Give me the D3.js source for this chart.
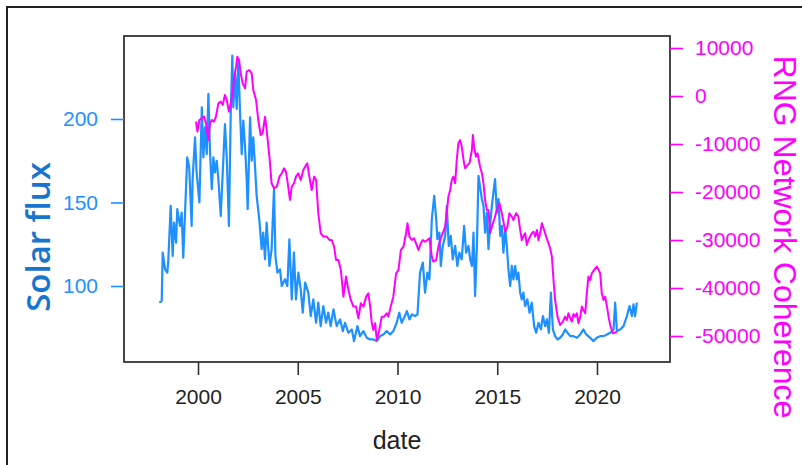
<!DOCTYPE html>
<html lang="en">
<script src="https://d3js.org/d3.v7.min.js"></script>

<head>
  <meta charset="UTF-8">
  <title>Solar flux vs RNG Network Coherence</title>
  <style>
    body { margin: 0; background: white; }
    .frame { fill: none; stroke: #222; stroke-width: 2px; }
    .plot-box { fill: none; stroke: #333; stroke-width: 1.8px; }
    .axis text { font-family: "Liberation Sans", Arial, sans-serif; font-size: 21px; }
    .axis .domain { display: none; }
    .axis line { stroke-width: 1.6px; }
    .flux-line { fill: none; stroke: #1E90FF; stroke-width: 2.2px; stroke-linejoin: round; }
    .rng-line { fill: none; stroke: #FF00FF; stroke-width: 2px; stroke-linejoin: round; }
  </style>
</head>

<body>
  <svg width="802" height="465"></svg>

  <script>
    // Solar flux: [decimal year, flux]
    var fluxSeries = [
      [1998.06, 90], [1998.18, 91], [1998.23, 120], [1998.35, 110], [1998.46, 108], [1998.51, 115],
      [1998.63, 148], [1998.73, 118], [1998.8, 138], [1998.9, 126], [1998.96, 146], [1999.1, 136],
      [1999.18, 144], [1999.26, 117], [1999.4, 159], [1999.46, 177], [1999.56, 171], [1999.68, 136],
      [1999.73, 164], [1999.85, 189], [1999.93, 168], [2000.07, 150], [2000.19, 207], [2000.27, 177],
      [2000.35, 195], [2000.44, 179], [2000.52, 215], [2000.6, 181], [2000.69, 158], [2000.77, 177],
      [2000.85, 168], [2000.94, 175], [2001.02, 164], [2001.14, 142], [2001.24, 168], [2001.35, 197],
      [2001.44, 177], [2001.55, 136], [2001.64, 203], [2001.72, 238], [2001.77, 207], [2001.86, 227],
      [2001.94, 206], [2002.02, 235], [2002.11, 203], [2002.19, 179], [2002.27, 199], [2002.36, 183],
      [2002.44, 164], [2002.49, 146], [2002.61, 201], [2002.69, 175], [2002.77, 189], [2002.86, 171],
      [2002.94, 154], [2003.07, 140], [2003.19, 122], [2003.27, 132], [2003.36, 116], [2003.44, 138],
      [2003.58, 112], [2003.69, 122], [2003.81, 158], [2003.88, 118], [2003.98, 108], [2004.11, 110],
      [2004.2, 100], [2004.36, 104], [2004.48, 100], [2004.58, 128], [2004.7, 92], [2004.81, 120],
      [2004.91, 92], [2005.03, 108], [2005.15, 98], [2005.25, 84], [2005.37, 102], [2005.53, 96],
      [2005.65, 82], [2005.78, 92], [2005.92, 78], [2006.03, 90], [2006.15, 76], [2006.28, 88],
      [2006.42, 78], [2006.53, 84], [2006.65, 76], [2006.79, 86], [2006.95, 76], [2007.12, 80],
      [2007.26, 73], [2007.37, 78], [2007.54, 72], [2007.71, 74], [2007.82, 67], [2007.99, 76],
      [2008.12, 70], [2008.29, 73], [2008.46, 69], [2008.63, 68], [2008.79, 68], [2008.96, 67],
      [2009.13, 70], [2009.29, 71], [2009.46, 73], [2009.63, 71], [2009.79, 73], [2009.96, 78],
      [2010.09, 84], [2010.21, 78], [2010.33, 81], [2010.47, 85], [2010.6, 80], [2010.72, 83],
      [2010.88, 82], [2011.0, 83], [2011.13, 108], [2011.27, 114], [2011.38, 96], [2011.5, 108],
      [2011.6, 104], [2011.72, 140], [2011.84, 154], [2011.94, 140], [2012.0, 128], [2012.1, 132],
      [2012.17, 112], [2012.27, 124], [2012.39, 130], [2012.47, 148], [2012.57, 124], [2012.67, 130],
      [2012.77, 116], [2012.89, 124], [2013.0, 112], [2013.1, 120], [2013.22, 116], [2013.34, 136],
      [2013.44, 120], [2013.56, 124], [2013.64, 116], [2013.73, 112], [2013.81, 132], [2013.89, 94],
      [2013.98, 124], [2014.06, 166], [2014.23, 152], [2014.31, 148], [2014.39, 132], [2014.48, 144],
      [2014.56, 122], [2014.64, 136], [2014.73, 148], [2014.81, 156], [2014.89, 164], [2014.98, 144],
      [2015.06, 152], [2015.15, 130], [2015.23, 136], [2015.31, 120], [2015.4, 134], [2015.48, 124],
      [2015.56, 110], [2015.65, 100], [2015.73, 112], [2015.81, 104], [2015.9, 112], [2015.98, 104],
      [2016.06, 108], [2016.15, 96], [2016.23, 92], [2016.31, 96], [2016.4, 88], [2016.51, 92],
      [2016.62, 84], [2016.73, 90], [2016.85, 76], [2016.95, 72], [2017.07, 78], [2017.19, 74],
      [2017.29, 82], [2017.4, 76], [2017.49, 80], [2017.59, 72], [2017.69, 96], [2017.79, 74],
      [2017.9, 70], [2018.02, 68], [2018.15, 69], [2018.29, 71], [2018.4, 74], [2018.52, 72],
      [2018.66, 70], [2018.82, 70], [2018.99, 69], [2019.16, 71], [2019.32, 74], [2019.46, 71],
      [2019.66, 69], [2019.82, 67], [2019.99, 69], [2020.16, 70], [2020.33, 70], [2020.5, 71],
      [2020.66, 72], [2020.83, 74], [2020.91, 90], [2021.0, 73], [2021.16, 74], [2021.33, 76],
      [2021.5, 82], [2021.63, 88], [2021.75, 82], [2021.83, 89], [2021.91, 82], [2022.0, 90]
    ];

    // RNG network coherence (cumulative): [decimal year, value]
    var rngSeries = [
      [1999.9, -5350], [1999.97, -7430], [2000.07, -5000], [2000.19, -4650], [2000.3, -4300],
      [2000.4, -5700], [2000.52, -9170], [2000.6, -5700], [2000.69, -5000], [2000.8, -5350],
      [2000.9, -4300], [2001.02, -1530], [2001.14, -1180], [2001.24, -1870], [2001.35, 210],
      [2001.44, -830], [2001.55, -3260], [2001.64, -1530], [2001.74, 560], [2001.81, 4020],
      [2001.91, 6100], [2001.97, 8190], [2002.06, 7500], [2002.14, 4730], [2002.24, 2640],
      [2002.36, 1600], [2002.44, 5070], [2002.57, 5420], [2002.69, 4730], [2002.77, 1250],
      [2002.91, -830], [2003.02, -5000], [2003.14, -8120], [2003.24, -7800], [2003.36, -4300],
      [2003.44, -7080], [2003.58, -12640], [2003.69, -18190], [2003.81, -19230], [2003.95, -18900],
      [2004.08, -16800], [2004.2, -16100], [2004.31, -15070], [2004.41, -15800], [2004.5, -18190],
      [2004.61, -21660], [2004.7, -18900], [2004.81, -18190], [2004.91, -16800], [2005.03, -16100],
      [2005.15, -17500], [2005.28, -15400], [2005.37, -14720], [2005.48, -14020], [2005.58, -16800],
      [2005.7, -19580], [2005.82, -16800], [2005.92, -17500], [2006.03, -24430], [2006.15, -28590],
      [2006.28, -29290], [2006.45, -29290], [2006.59, -30000], [2006.7, -30000], [2006.82, -31390],
      [2006.92, -34160], [2007.04, -34160], [2007.16, -36240], [2007.29, -41800], [2007.42, -37630],
      [2007.54, -40410], [2007.66, -42490], [2007.79, -43880], [2007.92, -43880], [2008.04, -46300],
      [2008.16, -43180], [2008.29, -43880], [2008.43, -41800], [2008.54, -41100], [2008.63, -43880],
      [2008.71, -47350], [2008.79, -48740], [2008.88, -47350], [2008.96, -50830], [2009.09, -48740],
      [2009.21, -45970], [2009.33, -45970], [2009.46, -45270], [2009.54, -45970], [2009.66, -43880],
      [2009.79, -41800], [2009.93, -36940], [2010.05, -36240], [2010.17, -32080], [2010.3, -31390],
      [2010.43, -28590], [2010.5, -26520], [2010.6, -29290], [2010.72, -30000], [2010.83, -29640],
      [2010.93, -30700], [2011.05, -32080], [2011.17, -30700], [2011.27, -30000], [2011.38, -30350],
      [2011.5, -30000], [2011.6, -29640], [2011.72, -33470], [2011.8, -34510], [2011.94, -34160],
      [2012.05, -31390], [2012.14, -30000], [2012.27, -28590], [2012.39, -27220], [2012.47, -24430],
      [2012.55, -20970], [2012.64, -19580], [2012.72, -17500], [2012.8, -16800], [2012.89, -18190],
      [2012.97, -13330], [2013.05, -9860], [2013.14, -9170], [2013.22, -10550], [2013.31, -13330],
      [2013.39, -15070], [2013.51, -14370], [2013.61, -14020], [2013.73, -11250], [2013.78, -8120],
      [2013.84, -10550], [2013.93, -12640], [2014.01, -11940], [2014.14, -14720], [2014.23, -16100],
      [2014.31, -18190], [2014.39, -21660], [2014.48, -23750], [2014.56, -23750], [2014.64, -28590],
      [2014.73, -27220], [2014.84, -25830], [2014.98, -23750], [2015.11, -22350], [2015.23, -24430],
      [2015.31, -26180], [2015.4, -28270], [2015.51, -27220], [2015.61, -24430], [2015.73, -25130],
      [2015.81, -25830], [2015.95, -24430], [2016.06, -25130], [2016.15, -27910], [2016.23, -30000],
      [2016.31, -29290], [2016.4, -28590], [2016.48, -31040], [2016.56, -30000], [2016.65, -29290],
      [2016.73, -28590], [2016.82, -28270], [2016.9, -29290], [2016.99, -27910], [2017.07, -30000],
      [2017.15, -28590], [2017.24, -26520], [2017.35, -27910], [2017.45, -29290], [2017.57, -30700],
      [2017.65, -31730], [2017.74, -33470], [2017.82, -38330], [2017.9, -42490], [2018.02, -45970],
      [2018.15, -47700], [2018.29, -47010], [2018.4, -45970], [2018.49, -46660], [2018.57, -45270],
      [2018.66, -46300], [2018.74, -47010], [2018.82, -45420], [2018.91, -45970], [2018.99, -45270],
      [2019.07, -47350], [2019.16, -45970], [2019.24, -43880], [2019.32, -44580], [2019.41, -45270],
      [2019.49, -41100], [2019.57, -37630], [2019.66, -38330], [2019.74, -36940], [2019.86, -36240],
      [2019.99, -35540], [2020.08, -36240], [2020.16, -36940], [2020.24, -41100], [2020.33, -42490],
      [2020.41, -41800], [2020.5, -43880], [2020.58, -45970], [2020.66, -47700], [2020.74, -48740],
      [2020.79, -49440], [2020.91, -49300], [2021.0, -49100]
    ];

    var yearTicks = [2000, 2005, 2010, 2015, 2020];
    var fluxTicks = [100, 150, 200];
    var rngTicks = [10000, 0, -10000, -20000, -30000, -40000, -50000];

    var svg = d3.select("svg");

    // plot region
    var plotLeft = 124, plotRight = 670, plotTop = 36, plotBottom = 362;

    var x = d3.scaleLinear().domain([1996.29, 2023.66]).range([plotLeft, plotRight]);
    var yFlux = d3.scaleLinear().domain([54.5, 249.7]).range([plotBottom, plotTop]);
    var yRng = d3.scaleLinear().domain([-55420, 12500]).range([plotBottom, plotTop]);

    // outer frame (runs off the page at right and bottom)
    svg.append("rect")
      .attr("class", "frame")
      .attr("x", 7).attr("y", 7)
      .attr("width", 900).attr("height", 600);

    var fluxLine = d3.line()
      .x(function (d) { return x(d[0]); })
      .y(function (d) { return yFlux(d[1]); });

    var rngLine = d3.line()
      .x(function (d) { return x(d[0]); })
      .y(function (d) { return yRng(d[1]); });

    svg.append("path")
      .datum(fluxSeries)
      .attr("class", "flux-line")
      .attr("d", fluxLine);

    svg.append("path")
      .datum(rngSeries)
      .attr("class", "rng-line")
      .attr("d", rngLine);

    svg.append("rect")
      .attr("class", "plot-box")
      .attr("x", plotLeft).attr("y", plotTop)
      .attr("width", plotRight - plotLeft).attr("height", plotBottom - plotTop);

    // bottom axis
    var xAxis = svg.append("g")
      .attr("class", "axis")
      .attr("transform", "translate(0," + plotBottom + ")")
      .call(d3.axisBottom(x).tickValues(yearTicks).tickFormat(d3.format("d"))
        .tickSize(13).tickSizeOuter(0).tickPadding(14));
    xAxis.selectAll("line").attr("stroke", "#333");
    xAxis.selectAll("text").attr("fill", "#222");

    // left axis (solar flux)
    var fluxAxis = svg.append("g")
      .attr("class", "axis")
      .attr("transform", "translate(" + plotLeft + ",0)")
      .call(d3.axisLeft(yFlux).tickValues(fluxTicks).tickFormat(d3.format("d"))
        .tickSize(13).tickSizeOuter(0).tickPadding(13));
    fluxAxis.selectAll("line").attr("stroke", "#1E90FF");
    fluxAxis.selectAll("text").attr("fill", "#1E90FF");

    // right axis (RNG coherence)
    var rngAxis = svg.append("g")
      .attr("class", "axis")
      .attr("transform", "translate(" + plotRight + ",0)")
      .call(d3.axisRight(yRng).tickValues(rngTicks).tickFormat(function (d) { return String(d); })
        .tickSize(13).tickSizeOuter(0).tickPadding(12));
    rngAxis.selectAll("line").attr("stroke", "#FF00FF");
    rngAxis.selectAll("text").attr("fill", "#FF00FF");

    // axis titles
    svg.append("text")
      .attr("x", 397).attr("y", 449)
      .attr("text-anchor", "middle")
      .style("font-family", "'Liberation Sans', Arial, sans-serif")
      .style("font-size", "25px")
      .attr("fill", "#222")
      .text("date");

    svg.append("text")
      .attr("transform", "translate(50,237) rotate(-90)")
      .attr("text-anchor", "middle")
      .style("font-family", "'Open Sans', sans-serif")
      .style("font-size", "33px")
      .style("font-weight", "600")
      .attr("fill", "#1874CD")
      .text("Solar flux");

    svg.append("text")
      .attr("transform", "translate(774,237) rotate(90)")
      .attr("text-anchor", "middle")
      .style("font-family", "'Liberation Sans', Arial, sans-serif")
      .style("font-size", "32px")
      .attr("fill", "#FF00FF")
      .text("RNG Network Coherence");
  </script>
</body>

</html>
